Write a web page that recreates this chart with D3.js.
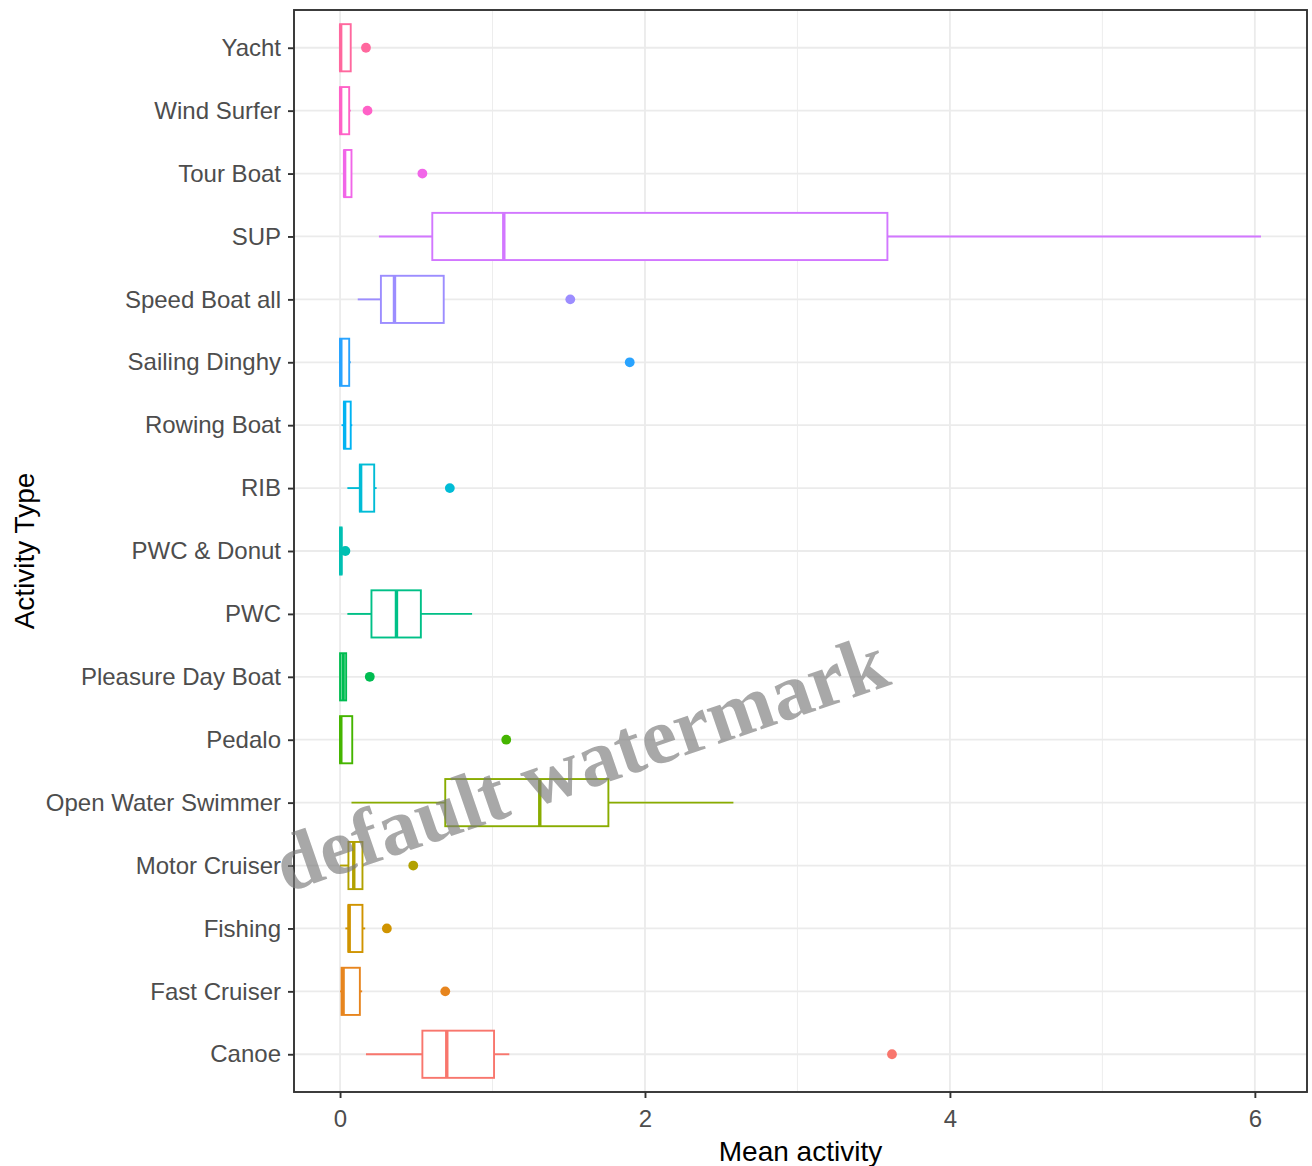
<!DOCTYPE html>
<html>
<head>
<meta charset="utf-8">
<script src="https://cdn.jsdelivr.net/npm/d3@7"></script>
<style>
  html, body { margin: 0; padding: 0; background: #ffffff; }
  svg { display: block; }
</style>
</head>
<body>
<svg id="chart" width="1312" height="1166"></svg>
<script>
// Activity types in factor order (first level sits at the bottom of the axis)
const categories = ["Canoe", "Fast Cruiser", "Fishing", "Motor Cruiser", "Open Water Swimmer",
  "Pedalo", "Pleasure Day Boat", "PWC", "PWC & Donut", "RIB", "Rowing Boat", "Sailing Dinghy",
  "Speed Boat all", "SUP", "Tour Boat", "Wind Surfer", "Yacht"];

// Box plot statistics of mean activity per type
const whiskerLow  = [0.17, 0.00, 0.035, 0.00, 0.075, 0.00, 0.00, 0.048, 0.00, 0.048, 0.01, 0.00, 0.116, 0.255, 0.027, 0.00, 0.00];
const lowerQ      = [0.54, 0.01, 0.055, 0.055, 0.69, 0.00, 0.00, 0.206, 0.00, 0.13, 0.026, 0.00, 0.268, 0.605, 0.027, 0.00, 0.00];
const medians     = [0.70, 0.02, 0.06, 0.09, 1.31, 0.005, 0.02, 0.37, 0.005, 0.135, 0.03, 0.005, 0.357, 1.074, 0.03, 0.004, 0.004];
const upperQ      = [1.01, 0.13, 0.147, 0.147, 1.76, 0.08, 0.04, 0.53, 0.01, 0.224, 0.07, 0.06, 0.68, 3.59, 0.075, 0.06, 0.07];
const whiskerHigh = [1.11, 0.145, 0.165, 0.155, 2.58, 0.08, 0.04, 0.866, 0.01, 0.24, 0.08, 0.07, 0.68, 6.04, 0.075, 0.07, 0.07];
const outliers    = [[3.62], [0.69], [0.307], [0.48], [], [1.09], [0.195], [], [0.035], [0.72], [], [1.90], [1.51], [], [0.54], [0.18], [0.17]];

const xTickValues = [0, 2, 4, 6];
const xMinorValues = [1, 3, 5];
const xTitle = "Mean activity";
const yTitle = "Activity Type";
const watermarkText = "default watermark";

// polar LUV (R's hcl) -> sRGB hex, used for the default discrete hue palette
function hclLuv(h, c, l) {
  const hr = h * Math.PI / 180;
  const U = c * Math.cos(hr), V = c * Math.sin(hr);
  const Xn = 95.047, Yn = 100, Zn = 108.883;
  const Y = Yn * (l > 7.999592 ? Math.pow((l + 16) / 116, 3) : l / 903.3);
  const den = Xn + 15 * Yn + 3 * Zn;
  const un = 4 * Xn / den, vn = 9 * Yn / den;
  const u = U / (13 * l) + un, v = V / (13 * l) + vn;
  const X = 9 * Y * u / (4 * v);
  const Z = -X / 3 - 5 * Y + 3 * Y / v;
  const x = X / 100, y = Y / 100, z = Z / 100;
  const lin = [
    3.240479 * x - 1.537150 * y - 0.498535 * z,
    -0.969256 * x + 1.875992 * y + 0.041556 * z,
    0.055648 * x - 0.204043 * y + 1.057311 * z
  ];
  const ch = lin.map(t => {
    const g = t <= 0.0031308 ? 12.92 * t : 1.055 * Math.pow(t, 1 / 2.4) - 0.055;
    return Math.round(Math.max(0, Math.min(1, g)) * 255);
  });
  return d3.rgb(ch[0], ch[1], ch[2]).formatHex();
}
const n = categories.length;
const palette = d3.range(n).map(i => hclLuv(15 + i * 360 / n, 100, 65));
const color = d3.scaleOrdinal().domain(categories).range(palette);

const svg = d3.select("#chart");
const panel = { left: 294, right: 1307, top: 10, bottom: 1092 };

// Continuous axis with 5% expansion on both sides
const allVals = whiskerLow.concat(whiskerHigh, outliers.flat());
const lo = d3.min(allVals), hi = d3.max(allVals);
const pad = (hi - lo) * 0.05;
const x = d3.scaleLinear().domain([lo - pad, hi + pad]).range([panel.left, panel.right]);

// Discrete axis: first category at bottom, 0.6 step of outer padding
const y = d3.scalePoint().domain(categories).range([panel.bottom, panel.top]).padding(0.6);
const boxH = y.step() * 0.75;

const rows = categories.map((c, i) => ({
  cat: c, lo: whiskerLow[i], q1: lowerQ[i], med: medians[i], q3: upperQ[i], hi: whiskerHigh[i], out: outliers[i]
}));

const gridColor = "#EBEBEB";
const grid = svg.append("g");
grid.selectAll("line.minor").data(xMinorValues).join("line")
  .attr("x1", d => x(d)).attr("x2", d => x(d))
  .attr("y1", panel.top).attr("y2", panel.bottom)
  .attr("stroke", gridColor).attr("stroke-width", 0.9);
grid.selectAll("line.majx").data(xTickValues).join("line")
  .attr("class", "majx")
  .attr("x1", d => x(d)).attr("x2", d => x(d))
  .attr("y1", panel.top).attr("y2", panel.bottom)
  .attr("stroke", gridColor).attr("stroke-width", 1.8);
grid.selectAll("line.majy").data(categories).join("line")
  .attr("class", "majy")
  .attr("x1", panel.left).attr("x2", panel.right)
  .attr("y1", d => y(d)).attr("y2", d => y(d))
  .attr("stroke", gridColor).attr("stroke-width", 1.8);

const lw = 1.9;
const boxes = svg.append("g").selectAll("g").data(rows).join("g")
  .attr("stroke", d => color(d.cat));

// whiskers
boxes.append("line")
  .attr("x1", d => x(d.lo)).attr("x2", d => x(d.q1))
  .attr("y1", d => y(d.cat)).attr("y2", d => y(d.cat))
  .attr("stroke-width", lw);
boxes.append("line")
  .attr("x1", d => x(d.q3)).attr("x2", d => x(d.hi))
  .attr("y1", d => y(d.cat)).attr("y2", d => y(d.cat))
  .attr("stroke-width", lw);
// box
boxes.append("rect")
  .attr("x", d => x(d.q1)).attr("width", d => Math.max(0, x(d.q3) - x(d.q1)))
  .attr("y", d => y(d.cat) - boxH / 2).attr("height", boxH)
  .attr("fill", "#ffffff").attr("stroke-width", lw);
// median
boxes.append("line")
  .attr("x1", d => x(d.med)).attr("x2", d => x(d.med))
  .attr("y1", d => y(d.cat) - boxH / 2).attr("y2", d => y(d.cat) + boxH / 2)
  .attr("stroke-width", lw * 1.8);
// outliers
boxes.selectAll("circle").data(d => d.out.map(v => ({ v, cat: d.cat }))).join("circle")
  .attr("cx", d => x(d.v)).attr("cy", d => y(d.cat)).attr("r", 4.9)
  .attr("fill", d => color(d.cat)).attr("stroke", "none");

// panel border
svg.append("rect")
  .attr("x", panel.left).attr("y", panel.top)
  .attr("width", panel.right - panel.left).attr("height", panel.bottom - panel.top)
  .attr("fill", "none").attr("stroke", "#333333").attr("stroke-width", 1.9);

const font = "'Liberation Sans', Arial, sans-serif";

// x axis
const xAxis = svg.append("g").attr("transform", `translate(0,${panel.bottom})`)
  .call(d3.axisBottom(x).tickValues(xTickValues).tickFormat(d3.format("d"))
    .tickSize(6).tickPadding(12).tickSizeOuter(0));
xAxis.select(".domain").remove();
xAxis.selectAll(".tick line").attr("stroke", "#333333").attr("stroke-width", 1.9);
xAxis.selectAll(".tick text").attr("fill", "#4D4D4D").style("font-family", font).style("font-size", "24px");

// y axis
const yAxis = svg.append("g").attr("transform", `translate(${panel.left},0)`)
  .call(d3.axisLeft(y).tickSize(6).tickPadding(7).tickSizeOuter(0));
yAxis.select(".domain").remove();
yAxis.selectAll(".tick line").attr("stroke", "#333333").attr("stroke-width", 1.9);
yAxis.selectAll(".tick text").attr("fill", "#4D4D4D").style("font-family", font).style("font-size", "24px");

// axis titles
svg.append("text")
  .attr("x", (panel.left + panel.right) / 2).attr("y", 1161)
  .attr("text-anchor", "middle").attr("fill", "#000000")
  .style("font-family", font).style("font-size", "28px")
  .text(xTitle);
svg.append("text")
  .attr("transform", `translate(34,${(panel.top + panel.bottom) / 2}) rotate(-90)`)
  .attr("text-anchor", "middle").attr("fill", "#000000")
  .style("font-family", font).style("font-size", "28px")
  .text(yTitle);

// watermark
svg.append("text")
  .attr("transform", "translate(286,893) rotate(-19)")
  .attr("fill", "#7a7a7a").attr("fill-opacity", 0.65)
  .style("font-family", "'Liberation Serif', 'Times New Roman', serif")
  .style("font-weight", "bold").style("font-size", "80px")
  .text(watermarkText);
</script>
</body>
</html>
